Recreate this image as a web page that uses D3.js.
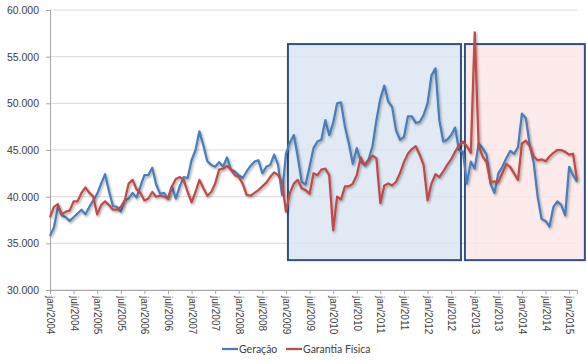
<!DOCTYPE html>
<html>
<head>
<meta charset="utf-8">
<script src="https://cdn.jsdelivr.net/npm/d3@7"></script>
<style>
  body { margin: 0; background: #fff; }
  svg { display: block; font-family: Lato, "Open Sans", sans-serif; }
</style>
</head>
<body>
<div id="chart"></div>
<script>
// monthly series, jan/2004 .. mar/2015 (MW médios)
const startYear = 2004;
const geracao = [
  35800, 36700, 38900, 38000, 37800, 37400, 37800, 38200, 38600, 38100, 38900, 39600,
  40300, 41400, 42400, 40600, 39000, 38900, 38400, 39600, 39800, 40400, 39900, 41100,
  42300, 42300, 43100, 41300, 40300, 40400, 39800, 41100, 39800, 41100, 42100, 42000,
  43900, 45000, 47000, 45500, 43800, 43400, 43200, 43700, 43200, 44200, 42900, 42700,
  42300, 42000, 42700, 43300, 43750, 43900, 42500, 43200, 43400, 44500, 43400, 40200,
  44600, 45800, 46600, 44300, 41600, 41300, 43200, 45200, 45900, 46100, 48200, 46600,
  47900, 50000, 50100, 47500, 45700, 43500, 45200, 43800, 43400, 44000, 45400, 48200,
  50500, 51900, 50200, 49600, 47100, 46100, 46400, 48600, 48600, 47900, 48000, 48750,
  50000, 53000, 53750, 48200, 45900, 46100, 46600, 47400, 45000, 44800, 41400, 43750,
  43000, 45700, 45200, 44500, 41400, 40400, 42500, 43200, 44100, 44900, 44600, 45300,
  48900, 48400, 45500, 43600, 40000, 37600, 37400, 36800, 38900, 39500, 39100, 38000,
  43200, 42300, 41600
];
const garantiaFisica = [
  37800, 38900, 39200, 38100, 38400, 38500, 39500, 39500, 40400, 41000, 40400, 40000,
  38100, 39100, 39500, 39100, 38600, 38600, 38900, 39600, 41400, 41800, 40800, 40400,
  39600, 39800, 40500, 40000, 40100, 40000, 39800, 41100, 41900, 42100, 41800, 40500,
  39400, 40500, 41800, 40900, 40100, 40500, 41400, 42900, 43000, 43300, 42900, 42300,
  42100, 41400, 40200, 40100, 40400, 40700, 41100, 41500, 42100, 42600, 42300, 41600,
  38400, 40400, 41400, 41800, 40900, 40700, 40300, 42500, 42300, 42900, 43000, 42300,
  36400, 40000, 39700, 41100, 41100, 41400, 42300, 44200, 43400, 43900, 44400, 44100,
  39300, 41200, 41400, 41200, 41600, 42500, 43700, 44600, 45100, 45400, 44500, 43400,
  39600, 41400, 42400, 42100, 42700, 43400, 44000, 44800, 45500, 45900, 45400, 44700,
  57600, 45500, 44300, 43700, 41600, 41600, 41600, 42500, 43500, 43200, 42500, 41800,
  45700, 46000, 45400, 44300, 43900, 44000, 43800, 44300, 44700, 45000, 45000, 44800,
  44500, 44600, 41800
];
const monthNames = ["jan", "fev", "mar", "abr", "mai", "jun", "jul", "ago", "set", "out", "nov", "dez"];
const yTicks = [30000, 35000, 40000, 45000, 50000, 55000, 60000];
const xTickMonths = ["jan/2004", "jul/2004", "jan/2005", "jul/2005", "jan/2006", "jul/2006",
  "jan/2007", "jul/2007", "jan/2008", "jul/2008", "jan/2009", "jul/2009", "jan/2010",
  "jul/2010", "jan/2011", "jul/2011", "jan/2012", "jul/2012", "jan/2013", "jul/2013",
  "jan/2014", "jul/2014", "jan/2015"];
// highlighted periods: [first month index, last month index, low, high]
const periodStart = [60.5, 105.5];
const periodEnd = [104.5, 136];
const periodLow = [33200, 33200];
const periodHigh = [56350, 56350];
const periodFill = ["#dce6f2", "#fde6e6"];

const months = geracao.map((d, i) => `${monthNames[i % 12]}/${startYear + Math.floor(i / 12)}`);

const W = 586, H = 363;
const margin = { top: 10, right: 9, bottom: 73, left: 50 };
const width = W - margin.left - margin.right;
const height = H - margin.top - margin.bottom;

const svg = d3.select("#chart").append("svg")
  .attr("width", W).attr("height", H);

const defs = svg.append("defs");
const f = defs.append("filter").attr("id", "shadow")
  .attr("x", "-5%").attr("y", "-5%").attr("width", "110%").attr("height", "115%");
f.append("feDropShadow").attr("dx", 1.2).attr("dy", 1.5).attr("stdDeviation", 0.9)
  .attr("flood-color", "#000").attr("flood-opacity", 0.35);

const g = svg.append("g").attr("transform", `translate(${margin.left},${margin.top})`);

const x = d3.scaleLinear().domain([0, months.length - 1]).range([0, width]);
const y = d3.scaleLinear().domain([30000, 60000]).range([height, 0]);

// gridlines
g.append("g").selectAll("line").data(yTicks).enter().append("line")
  .attr("x1", 0).attr("x2", width)
  .attr("y1", d => y(d)).attr("y2", d => y(d))
  .attr("stroke", "#d9d9d9").attr("stroke-width", 1);

// highlighted periods
g.append("g").selectAll("rect").data(periodStart).enter().append("rect")
  .attr("x", (d, i) => x(d))
  .attr("y", (d, i) => y(periodHigh[i]))
  .attr("width", (d, i) => x(periodEnd[i]) - x(d))
  .attr("height", (d, i) => y(periodLow[i]) - y(periodHigh[i]))
  .attr("fill", (d, i) => periodFill[i])
  .attr("fill-opacity", 0.85)
  .attr("stroke", "#2f5181").attr("stroke-width", 2);

// y axis
const yAxis = g.append("g")
  .call(d3.axisLeft(y).tickValues(yTicks).tickSize(4).tickPadding(7)
    .tickFormat(d => d3.format(",")(d).replace(/,/g, ".")));
yAxis.select(".domain").attr("stroke", "#a6a6a6");
yAxis.selectAll(".tick line").attr("stroke", "#a6a6a6");
yAxis.selectAll("text").attr("fill", "#404040").style("font-size", "10.5px");

// x axis
const xAxis = g.append("g").attr("transform", `translate(0,${height})`)
  .call(d3.axisBottom(x).tickValues(xTickMonths.map(m => months.indexOf(m)))
    .tickSize(4).tickFormat(d => months[d]));
xAxis.select(".domain").attr("stroke", "#a6a6a6");
xAxis.selectAll(".tick line").attr("stroke", "#a6a6a6");
xAxis.selectAll("text")
  .attr("fill", "#404040").style("font-size", "10px")
  .attr("transform", "rotate(90)")
  .attr("x", 6).attr("y", 0).attr("dy", "0.35em")
  .style("text-anchor", "start");

// lines
const line = d3.line().x((d, i) => x(i)).y(d => y(d));
const series = [
  { name: "Geração", values: geracao, color: "#4a7ebb" },
  { name: "Garantia Física", values: garantiaFisica, color: "#be4b48" }
];
g.selectAll(".series").data(series).enter().append("path")
  .attr("class", "series")
  .attr("d", d => line(d.values))
  .attr("fill", "none")
  .attr("stroke", d => d.color)
  .attr("stroke-width", 2.25)
  .attr("stroke-linejoin", "round")
  .attr("filter", "url(#shadow)");

// legend
const legend = svg.append("g").attr("transform", "translate(222,349)");
const legendX = [0, 64];
const item = legend.selectAll("g").data(series).enter().append("g")
  .attr("transform", (d, i) => `translate(${legendX[i]},0)`);
item.append("line").attr("x1", 0).attr("x2", 16).attr("y1", 0).attr("y2", 0)
  .attr("stroke", d => d.color).attr("stroke-width", 2.25);
item.append("text").attr("x", 17).attr("dy", "0.35em")
  .attr("fill", "#404040").style("font-size", "10.5px")
  .text(d => d.name);
</script>
</body>
</html>
